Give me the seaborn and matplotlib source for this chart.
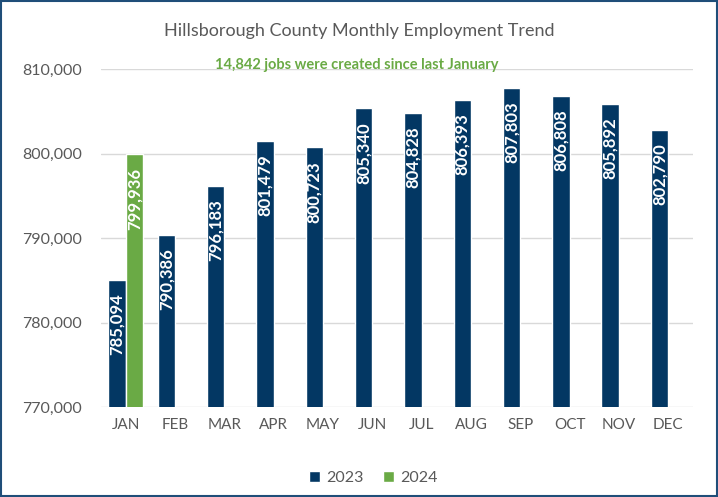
import pandas as pd
import matplotlib
matplotlib.use("Agg")
import matplotlib.pyplot as plt
import seaborn as sns
from matplotlib.patches import Rectangle

months = ["JAN", "FEB", "MAR", "APR", "MAY", "JUN", "JUL", "AUG", "SEP", "OCT", "NOV", "DEC"]
jobs_2023 = [785094, 790386, 796183, 801479, 800723, 805340, 804828, 806393, 807803, 806808, 805892, 802790]
jobs_2024 = [799936]
yticks = [770000, 780000, 790000, 800000, 810000]

navy = "#033763"
green = "#6AAA45"
grey = "#595959"

rows = []
for m, v in zip(months, jobs_2023):
    rows.append({"month": m, "year": "2023", "jobs": v})
for m, v in zip(months, jobs_2024):
    rows.append({"month": m, "year": "2024", "jobs": v})
df = pd.DataFrame(rows)

sns.set_style("white")
plt.rcParams["font.family"] = ["Lato", "DejaVu Sans"]

fig = plt.figure(figsize=(7.18, 4.97), dpi=100)
ax = fig.add_axes([0.141, 0.181, 0.824, 0.68])

sns.barplot(data=df, x="month", y="jobs", hue="year", order=months,
            hue_order=["2023", "2024"], palette=[navy, green],
            width=0.71, dodge=True, ax=ax, saturation=1)

ax.set_ylim(770000, 810000)
ax.set_yticks(yticks)
ax.set_yticklabels([f"{t:,}" for t in yticks], color=grey, fontsize=11.5)
ax.tick_params(axis="x", colors=grey, labelsize=11, length=0, pad=8)
ax.tick_params(axis="y", length=0, pad=14)
ax.yaxis.grid(True, color="#D9D9D9", lw=1)
ax.set_axisbelow(True)
for s in ax.spines.values():
    s.set_visible(False)
ax.set_xlabel("")
ax.set_ylabel("")

# value labels inside bars
for cont in ax.containers:
    for bar in cont:
        h = bar.get_height()
        if pd.isna(h) or h == 0:
            continue
        ax.text(bar.get_x() + bar.get_width() / 2, h - 1600, f"{h:,.0f}",
                rotation=90, ha="center", va="top", color="white",
                fontsize=12, fontweight="bold")

fig.text(0.50, 0.938, "Hillsborough County Monthly Employment Trend",
         ha="center", va="center", color=grey, fontsize=13)
ax.text(0.432, 1.012, "14,842 jobs were created since last January",
        transform=ax.transAxes, ha="center", va="center", color=green,
        fontsize=10.5, fontweight="bold")

ax.legend(loc="center", bbox_to_anchor=(0.46, -0.21), ncol=2, frameon=False,
          fontsize=11.5, handlelength=0.7, handleheight=0.7, handletextpad=0.4,
          columnspacing=1.2, labelcolor=grey)

fig.patches.append(Rectangle((0.002, 0.002), 0.996, 0.996, transform=fig.transFigure,
                             fill=False, edgecolor="#1F4E79", lw=1.5))

fig.savefig("out.png", dpi=100)
